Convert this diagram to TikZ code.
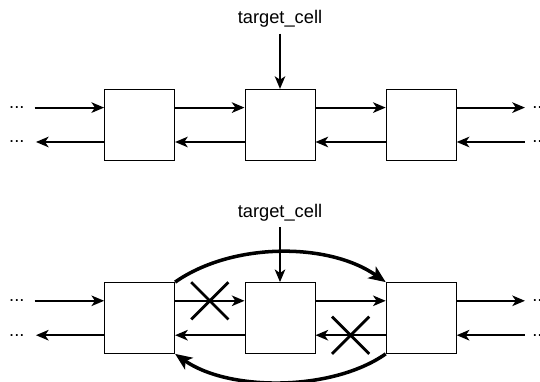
\documentclass[tikz,border=0pt]{standalone}
\usepackage{fontspec}
\setmainfont{Liberation Sans}
\usepackage{tikz}
\usetikzlibrary{arrows.meta, calc, shapes.misc}

\tikzset{
    cell/.style={draw, line width=0.7pt, minimum width=1.75cm, minimum height=1.77cm, inner sep=0pt},
    link/.style={-{Stealth[length=9pt, width=7.5pt, inset=2.5pt]}, line width=1.4pt},
    jump/.style={-{Stealth[length=12pt, width=10pt, inset=3pt]}, line width=2.5pt},
    dots/.style={inner sep=0pt, font=\fontsize{13}{15}\selectfont},
    tag/.style={inner sep=1pt, font=\fontsize{13}{15}\selectfont},
    cut/.style={draw, cross out, line width=2pt, minimum size=0.86cm, inner sep=0pt}
}

\begin{document}
\begin{tikzpicture}
    \useasboundingbox (0,0) rectangle (13.5,9.55);

    % two rows: list before (a) and after (b) the cell is taken out
    \foreach \row/\y in {a/6.43, b/1.6} {
        % cells
        \foreach \i/\x in {1/3.49, 2/7.0, 3/10.53} {
            \node[cell] (\row\i) at (\x, \y) {};
        }
        % open ends of the list
        \node[dots] (\row-lt) at (0.42, \y+0.43) {...};
        \node[dots] (\row-lb) at (0.42, \y-0.43) {...};
        \node[dots, anchor=west] (\row-rt) at (13.3, \y+0.43) {...};
        \node[dots, anchor=west] (\row-rb) at (13.3, \y-0.43) {...};
        \node[tag] (\row-t) at (7.0, \y+2.64) {target\_cell};

        % next links
        \draw[link, shorten <=7pt] (\row-lt.east) -- (\row-lt -| \row1.west);
        \draw[link] (\row1.east |- \row-lt) -- (\row2.west |- \row-lt);
        \draw[link] (\row2.east |- \row-lt) -- (\row3.west |- \row-lt);
        \draw[link, shorten >=5pt] (\row3.east |- \row-rt) -- (\row-rt.west);
        % prev links
        \draw[link, shorten >=8pt] (\row1.west |- \row-lb) -- (\row-lb.east);
        \draw[link] (\row2.west |- \row-lb) -- (\row1.east |- \row-lb);
        \draw[link] (\row3.west |- \row-lb) -- (\row2.east |- \row-lb);
        \draw[link, shorten <=5pt] (\row-rb.west) -- (\row3.east |- \row-rb);

        % pointer to the cell
        \draw[link, shorten <=3pt] (\row-t) -- (\row2);
    }

    % links that bypass the target cell
    \draw[jump] (b1.north east) to[out=35, in=145, looseness=0.85] (b3.north west);
    \draw[jump] (b3.south west) to[out=-145, in=-35, looseness=0.8] (b1.south east);

    % broken links
    \node[cut] (x1) at ($(b1.east |- b-lt)!0.5!(b2.west |- b-lt)$) {};
    \node[cut] (x2) at ($(b2.east |- b-lb)!0.5!(b3.west |- b-lb)$) {};
\end{tikzpicture}
\end{document}
